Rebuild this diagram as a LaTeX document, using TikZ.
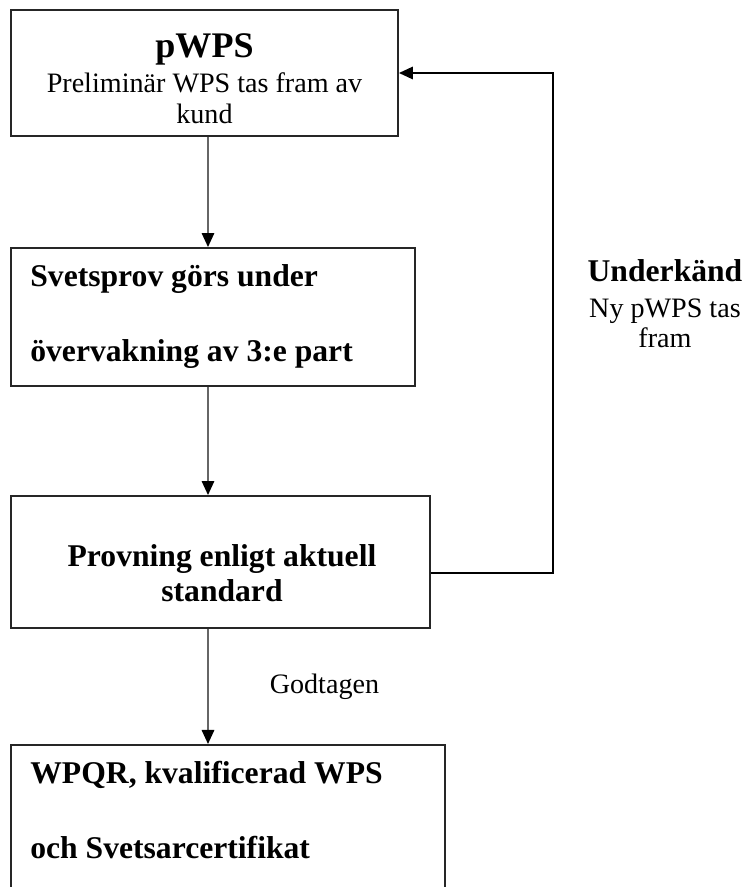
\documentclass[tikz,border=0pt]{standalone}
\usepackage{fontspec}
\setmainfont{Liberation Serif}
\usetikzlibrary{arrows.meta}

\begin{document}
\begin{tikzpicture}[box/.style={draw=black!85, line width=1.1pt},
   flow/.style={draw=black!60, line width=0.9pt, -{Triangle[length=2.8mm,width=2.5mm,color=black]}},
   back/.style={draw=black, line width=1pt, -{Triangle[length=2.8mm,width=2.5mm]}},
   big/.style={font=\fontsize{18}{20}\selectfont\bfseries},
   small/.style={font=\fontsize{16}{18}\selectfont},
   wide/.style={font=\fontsize{18}{42.7}\selectfont\bfseries, align=left, anchor=north west, inner sep=0pt}]
   \useasboundingbox (0,0) rectangle (14.96,17.74);
   % frames
   \node[box, minimum width=7.74cm, minimum height=2.52cm] (b1) at (4.09,16.28) {};
   \node[box, minimum width=8.08cm, minimum height=2.76cm] (b2) at (4.26,11.40) {};
   \node[box, minimum width=8.38cm, minimum height=2.64cm] (b3) at (4.41,6.50) {};
   \node[box, minimum width=8.68cm, minimum height=3.3cm, anchor=north] (b4) at (4.56,2.86) {};
   % texts
   \node[small, align=center, inner sep=0pt] (t1) at (4.09,16.16)
     {{\fontsize{20.5}{22}\selectfont\bfseries pWPS}\\[1.6pt] Preliminär WPS tas fram av\\ kund};
   \node[wide] (t2) at (0.6,12.46) {Svetsprov görs under\\ övervakning av 3:e part};
   \node[big, align=center, inner sep=0pt] (t3) at (4.44,6.27) {Provning enligt aktuell\\ standard};
   \node[wide] (t4) at (0.6,2.52) {WPQR, kvalificerad WPS\\ och Svetsarcertifikat};
   \node[align=center, inner sep=0pt, font=\fontsize{16}{17}\selectfont] (fail) at (13.3,11.66)
     {{\fontsize{18}{20}\selectfont\bfseries Underkänd}\\[3.5pt] Ny pWPS tas\\ fram};
   % arrows
   \coordinate (ax) at (4.16,0);
   \coordinate (fb) at (11.06,0);
   \draw[flow] (b1.south -| ax) -- (b2.north -| ax);
   \draw[flow] (b2.south -| ax) -- (b3.north -| ax);
   \draw[flow] (b3.south -| ax) -- node[right=1.22cm, inner sep=0pt, small] (ok) {Godtagen} (b4.north -| ax);
   \draw[back] ([yshift=-0.22cm]b3.east) -- ([yshift=-0.22cm]b3.east -| fb) -- (b1.east -| fb) -- (b1.east);
\end{tikzpicture}
\end{document}
